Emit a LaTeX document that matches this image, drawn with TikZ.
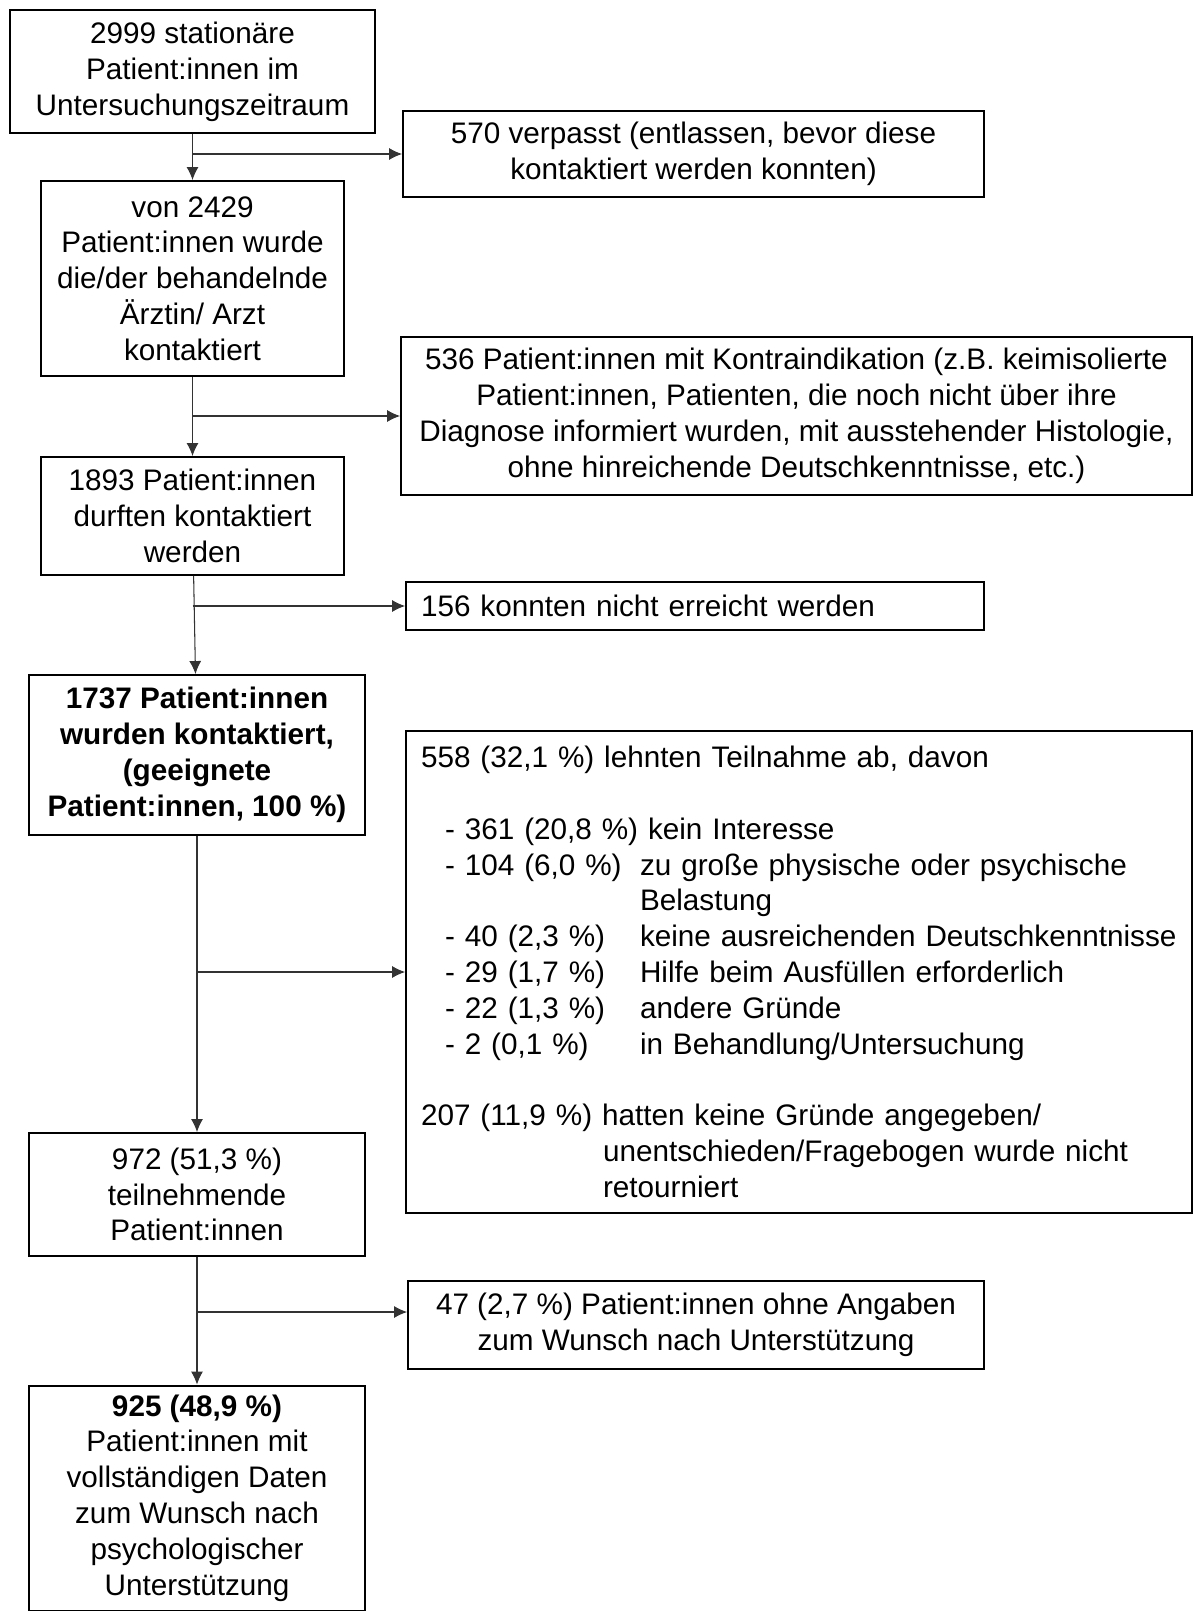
\documentclass[tikz,border=0pt]{standalone}
\usepackage{fontspec}
\setmainfont{Liberation Sans}
\usetikzlibrary{arrows.meta}

\tikzset{
  box/.style={draw=black, line width=1.1pt, align=center, inner sep=0pt},
  link/.style={draw=black!80, line width=0.6pt, -{Latex[length=2.6mm,width=2.4mm]}},
}
\newcommand{\reason}[2]{\hspace*{0.48cm}\makebox[3.9cm][l]{#1}#2}

\begin{document}
\begin{tikzpicture}[x=0.02cm, y=-0.02cm, font=\fontsize{16.9pt}{20.4pt}\selectfont]
  \useasboundingbox (0,0) rectangle (1193,1611);

  % main column
  \node[box, minimum width=7.3cm, minimum height=2.46cm] (total) at (192.5,71.5)
    {2999 stationäre\\Patient:innen im\\Untersuchungszeitraum};
  \node[box, minimum width=6.06cm, minimum height=3.9cm] (doctor) at (192.5,278.5)
    {von 2429\\Patient:innen wurde\\die/der behandelnde\\Ärztin/ Arzt\\kontaktiert};
  \node[box, minimum width=6.06cm, minimum height=2.36cm] (allowed) at (192.5,516)
    {1893 Patient:innen\\durften kontaktiert\\werden};
  \node[box, minimum width=6.72cm, minimum height=3.2cm, font=\fontsize{16.9pt}{20.4pt}\selectfont\bfseries] (contacted) at (197,755)
    {1737 Patient:innen\\wurden kontaktiert,\\(geeignete\\Patient:innen, 100 \%)};
  \node[box, minimum width=6.72cm, minimum height=2.46cm] (partic) at (197,1194.5)
    {972 (51,3 \%)\\teilnehmende\\Patient:innen};
  \node[box, minimum width=6.72cm, minimum height=4.5cm] (complete) at (197,1498)
    {\textbf{925 (48,9 \%)}\\Patient:innen mit\\vollständigen Daten\\zum Wunsch nach\\psychologischer\\Unterstützung};

  % exclusions
  \node[box, minimum width=11.62cm, minimum height=1.72cm] (missed) at (693.5,154)
    {570 verpasst (entlassen, bevor diese\\kontaktiert werden konnten)};
  \node[box, minimum width=15.82cm, minimum height=3.16cm] (contra) at (796.5,416)
    {536 Patient:innen mit Kontraindikation (z.B. keimisolierte\\Patient:innen, Patienten, die noch nicht über ihre\\Diagnose informiert wurden, mit ausstehender Histologie,\\ohne hinreichende Deutschkenntnisse, etc.)};
  \node[box, minimum width=11.56cm, minimum height=0.96cm, text width=10.96cm, align=left] (unreached) at (695,606)
    {156 konnten nicht erreicht werden};
  \node[box, minimum width=15.72cm, minimum height=9.64cm, text width=15.12cm, align=left] (refused) at (799,972)
    {558 (32,1 \%) lehnten Teilnahme ab, davon\\[20.4pt]
     \hspace*{0.48cm}- 361 (20,8 \%) kein Interesse\\
     \reason{- 104 (6,0 \%)}{zu große physische oder psychische}\\
     \hspace*{4.38cm}Belastung\\
     \reason{- 40 (2,3 \%)}{keine ausreichenden Deutschkenntnisse}\\
     \reason{- 29 (1,7 \%)}{Hilfe beim Ausfüllen erforderlich}\\
     \reason{- 22 (1,3 \%)}{andere Gründe}\\
     \reason{- 2 (0,1 \%)}{in Behandlung/Untersuchung}\\[20.4pt]
     207 (11,9 \%) hatten keine Gründe angegeben/\\
     \hspace*{3.64cm}unentschieden/Fragebogen wurde nicht\\
     \hspace*{3.64cm}retourniert};
  \node[box, minimum width=11.52cm, minimum height=1.76cm] (noinfo) at (696,1325)
    {47 (2,7 \%) Patient:innen ohne Angaben\\zum Wunsch nach Unterstützung};

  % connectors
  \draw[link] (total) -- (doctor);
  \draw[link] (doctor) -- (allowed);
  \draw[link] (allowed) -- (contacted);
  \draw[link] (contacted) -- (partic);
  \draw[link] (partic) -- (complete);

  \coordinate (j5) at (197,1312);
  \draw[link] (total.south |- missed.west) -- (missed.west);
  \draw[link] (doctor.south |- contra.west) -- (contra.west);
  \draw[link] (allowed.south |- unreached.west) -- (unreached.west);
  \draw[link] (contacted.south |- refused.west) -- (refused.west);
  \draw[link] (j5) -- (j5 -| noinfo.west);
\end{tikzpicture}
\end{document}
